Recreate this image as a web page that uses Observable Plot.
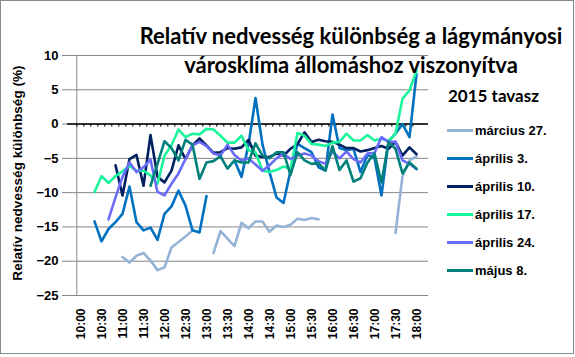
<!DOCTYPE html>
<html>
<head>
<meta charset="utf-8">
<script src="https://cdn.jsdelivr.net/npm/d3@7"></script>
<script src="https://cdn.jsdelivr.net/npm/@observablehq/plot@0.6"></script>
<style>
  body { margin: 0; background: #fff; }
  #wrap { position: relative; width: 575px; height: 357px; overflow: hidden; background: #fff; }
  #border { position: absolute; left: 0; top: 0; width: 574px; height: 354px; border: 1px solid #8a8a8a; box-sizing: border-box; pointer-events: none; }
  #wrap svg text { font-weight: bold; }
  #wrap svg g[aria-label="y-axis tick label"] text { font-size: 13px; }
  #wrap svg g[aria-label="x-axis tick label"] text { font-size: 12px; }
  .title { position: absolute; left: 101px; width: 500px; text-align: center; font-family: Lato, "Liberation Sans", sans-serif; font-weight: bold; font-size: 22px; line-height: 28px; white-space: nowrap; color: #000; }
  .ytitle { position: absolute; left: 17px; top: 173px; transform: translate(-50%, -50%) rotate(-90deg); font-family: "Liberation Sans", Arial, sans-serif; font-weight: bold; font-size: 13.6px; white-space: nowrap; }
  .lgtitle { position: absolute; left: 448px; top: 86px; font-family: Lato, "Liberation Sans", sans-serif; font-weight: bold; font-size: 17px; line-height: 20px; white-space: nowrap; }
  .lg { position: absolute; left: 447px; height: 20px; display: flex; align-items: center; font-family: "Liberation Sans", Arial, sans-serif; font-weight: bold; font-size: 13px; white-space: nowrap; }
  .sw { width: 26px; height: 3px; margin-right: 2px; }
</style>
</head>
<body>
<div id="wrap"></div>
<script>
const times = ["10:00","10:10","10:20","10:30","10:40","10:50","11:00","11:10","11:20","11:30","11:40","11:50",
  "12:00","12:10","12:20","12:30","12:40","12:50","13:00","13:10","13:20","13:30","13:40","13:50",
  "14:00","14:10","14:20","14:30","14:40","14:50","15:00","15:10","15:20","15:30","15:40","15:50",
  "16:00","16:10","16:20","16:30","16:40","16:50","17:00","17:10","17:20","17:30","17:40","17:50","18:00"];
const tickLabels = ["10:00","10:30","11:00","11:30","12:00","12:30","13:00","13:30","14:00","14:30",
  "15:00","15:30","16:00","16:30","17:00","17:30","18:00"];
const yTicks = [-25, -20, -15, -10, -5, 0, 5, 10];

const seriesNames = ["március 27.", "április 3.", "április 10.", "április 17.", "április 24.", "május 8."];
const seriesColors = ["#95B3D7", "#0070C0", "#002060", "#1AF59C", "#6B6BFA", "#00807A"];

const marc27 = [null,null,null,null,null,null,
  -19.4,-20.2,-19.2,-18.8,-19.9,-21.3,-20.9,-18.0,-17.2,-16.4,-15.5,
  null,null,
  -18.8,-15.6,-16.7,-17.8,-14.4,-15.2,-14.2,-14.2,-15.7,-14.8,-15.0,-14.7,-13.8,-14.0,-13.7,-13.9,
  null,null,null,null,null,null,null,null,null,null,
  -15.9,-7.6,-5.3,-4.7];
const apr3 = [null,null,
  -14.2,-17.1,-15.3,-14.3,-13.1,-9.1,-14.3,-15.5,-15.1,-16.9,-13.1,-12.0,-9.7,-11.9,-15.5,-15.8,-10.5,
  null,null,null,
  -5.3,-7.7,-3.0,3.8,-3.0,-7.0,-10.7,-11.5,-6.8,-2.9,-3.5,-4.1,-6.3,-6.8,1.4,-3.5,-3.8,-3.6,-7.0,-4.5,
  -5.0,-10.4,-2.5,-1.4,0.0,-1.9,7.3];
const apr10 = [null,null,null,null,null,
  -6.0,-10.4,-5.1,-4.5,-9.0,-1.6,-7.7,-8.5,-6.8,-3.1,-5.1,-3.1,-2.1,-3.1,-4.2,-4.1,-3.5,-3.6,-3.4,-2.3,
  -4.6,-4.8,-4.8,-4.3,-4.6,-3.6,-2.9,-1.2,-2.6,-2.3,-2.5,-2.6,-3.0,-3.5,-3.5,-4.0,-3.8,-3.5,-3.2,-3.6,
  -2.6,-4.6,-3.4,-4.4];
const apr17 = [null,null,
  -9.9,-7.6,-8.6,-7.6,-6.9,-6.1,-6.8,-6.8,-7.5,-8.7,-4.6,-3.1,-0.8,-1.9,-1.4,-1.5,-0.7,-0.8,-1.7,-2.7,
  -2.7,-1.7,-3.8,-4.1,-6.8,-7.0,-6.7,-6.2,-6.5,-1.3,-1.7,-2.9,-3.0,-3.2,-2.7,-2.6,-1.4,-2.4,-2.4,-1.6,
  -2.4,-2.1,-2.5,-1.4,3.7,4.9,7.8];
const apr24 = [null,null,null,null,
  -13.9,-10.7,-7.7,-5.6,-7.0,-6.3,-5.2,-9.9,-10.4,-8.7,-7.2,-5.1,-3.1,-2.6,-3.2,-4.3,-4.6,-3.0,-4.5,
  -5.3,-5.0,-5.9,-6.8,-6.0,-5.0,-4.3,-5.1,-4.6,-4.3,-4.6,-5.4,-5.8,-4.0,-5.0,-4.0,-5.1,-5.6,-4.3,-4.2,
  -1.9,-2.6,-2.6,-5.3,-5.8,-6.6];
const maj8 = [null,null,null,null,null,null,null,null,null,null,
  -9.0,-5.8,-2.5,-3.5,-5.3,-2.3,-3.0,-8.0,-5.6,-5.4,-4.7,-6.5,-5.3,-5.6,-5.6,-2.8,-4.6,-5.0,-4.1,-4.1,
  -7.4,-4.1,-5.3,-5.8,-5.7,-6.8,-3.2,-6.7,-5.3,-8.4,-7.9,-5.6,-4.3,-8.5,-2.6,-3.6,-7.2,-5.6,-6.5];

const seriesValues = [marc27, apr3, apr10, apr17, apr24, maj8];
const rows = seriesNames.flatMap((name, k) =>
  seriesValues[k].map((v, i) => ({time: times[i], value: v, series: name})));

const W = 575, H = 357, ML = 67, MR = 147, MT = 55, MB = 62;
const step = (W - ML - MR) / times.length;

const chart = Plot.plot({
  width: W, height: H,
  marginLeft: ML, marginRight: MR, marginTop: MT, marginBottom: MB,
  style: {fontFamily: "'Liberation Sans', Arial, sans-serif", fontWeight: "bold", fontSize: "13px", background: "transparent", color: "#000"},
  x: {type: "point", domain: times, padding: 0.5, label: null},
  y: {domain: [-25, 10], label: null},
  color: {domain: seriesNames, range: seriesColors},
  marks: [
    Plot.gridY(yTicks, {stroke: "#868686", strokeOpacity: 1, strokeWidth: 1}),
    Plot.ruleX([times[0]], {x: d => d, y1: -25, y2: 10, dx: -step / 2, stroke: "#868686"}),
    Plot.axisY({ticks: yTicks, tickSize: 5, tickPadding: 4, stroke: "#868686", fill: "#000", label: null}),
    Plot.axisX({ticks: tickLabels, tickRotate: -90, tickSize: 0, tickPadding: 13, label: null, fill: "#000", dx: 1}),
    Plot.ruleY([0], {stroke: "#000", strokeWidth: 1.6}),
    Plot.ruleX(times, {x: d => d, y1: 0, y2: -0.45, dx: -step / 2, stroke: "#000", strokeWidth: 1}),
    Plot.line(rows, {x: "time", y: "value", z: "series", stroke: "series", strokeWidth: 2.6})
  ]
});

const wrap = document.getElementById("wrap");
wrap.appendChild(chart);
chart.style.position = "absolute";
chart.style.left = "0px";
chart.style.top = "0px";

const t1 = document.createElement("div");
t1.className = "title"; t1.style.top = "22px";
t1.textContent = "Relatív nedvesség különbség a lágymányosi";
wrap.appendChild(t1);
const t2 = document.createElement("div");
t2.className = "title"; t2.style.top = "51px";
t2.textContent = "városklíma állomáshoz viszonyítva";
wrap.appendChild(t2);

const yt = document.createElement("div");
yt.className = "ytitle";
yt.textContent = "Relatív nedvesség különbség (%)";
wrap.appendChild(yt);

const lgt = document.createElement("div");
lgt.className = "lgtitle";
lgt.textContent = "2015 tavasz";
wrap.appendChild(lgt);

seriesNames.forEach((name, k) => {
  const row = document.createElement("div");
  row.className = "lg";
  row.style.top = (120 + k * 28) + "px";
  const sw = document.createElement("div");
  sw.className = "sw";
  sw.style.background = seriesColors[k];
  row.appendChild(sw);
  const tx = document.createElement("span");
  tx.textContent = name;
  row.appendChild(tx);
  wrap.appendChild(row);
});

const border = document.createElement("div");
border.id = "border";
wrap.appendChild(border);
</script>
</body>
</html>
